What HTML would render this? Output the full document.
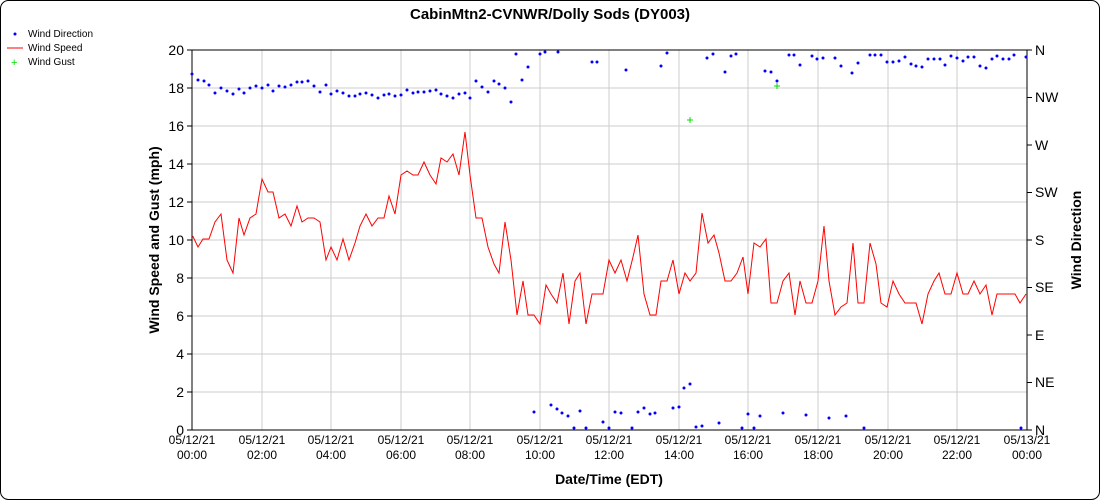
<!DOCTYPE html>
<html><head><style>body{margin:0;background:#fff}svg{display:block;font-family:"Liberation Sans",sans-serif}</style></head><body>
<svg width="1100" height="500" xmlns="http://www.w3.org/2000/svg">
<rect x="0.5" y="0.5" width="1099" height="499" rx="8" fill="#fff" stroke="#000"/>
<text x="550" y="19" text-anchor="middle" font-size="15" font-weight="bold">CabinMtn2-CVNWR/Dolly Sods (DY003)</text>
<g stroke="#ccc" stroke-width="1">
<line x1="192" y1="88" x2="1027" y2="88"/><line x1="192" y1="126" x2="1027" y2="126"/><line x1="192" y1="164" x2="1027" y2="164"/><line x1="192" y1="202" x2="1027" y2="202"/><line x1="192" y1="240" x2="1027" y2="240"/><line x1="192" y1="278" x2="1027" y2="278"/><line x1="192" y1="316" x2="1027" y2="316"/><line x1="192" y1="354" x2="1027" y2="354"/><line x1="192" y1="392" x2="1027" y2="392"/>
<line x1="262" y1="50" x2="262" y2="430"/><line x1="331" y1="50" x2="331" y2="430"/><line x1="401" y1="50" x2="401" y2="430"/><line x1="470" y1="50" x2="470" y2="430"/><line x1="540" y1="50" x2="540" y2="430"/><line x1="609" y1="50" x2="609" y2="430"/><line x1="679" y1="50" x2="679" y2="430"/><line x1="748" y1="50" x2="748" y2="430"/><line x1="818" y1="50" x2="818" y2="430"/><line x1="888" y1="50" x2="888" y2="430"/><line x1="957" y1="50" x2="957" y2="430"/>
</g>
<rect x="192" y="50" width="835" height="380" fill="none" stroke="#000"/>
<g stroke="#000">
<line x1="187" y1="50" x2="192" y2="50"/><line x1="187" y1="88" x2="192" y2="88"/><line x1="187" y1="126" x2="192" y2="126"/><line x1="187" y1="164" x2="192" y2="164"/><line x1="187" y1="202" x2="192" y2="202"/><line x1="187" y1="240" x2="192" y2="240"/><line x1="187" y1="278" x2="192" y2="278"/><line x1="187" y1="316" x2="192" y2="316"/><line x1="187" y1="354" x2="192" y2="354"/><line x1="187" y1="392" x2="192" y2="392"/><line x1="187" y1="430" x2="192" y2="430"/>
<line x1="1027" y1="50" x2="1032" y2="50"/><line x1="1027" y1="97.5" x2="1032" y2="97.5"/><line x1="1027" y1="145" x2="1032" y2="145"/><line x1="1027" y1="192.5" x2="1032" y2="192.5"/><line x1="1027" y1="240" x2="1032" y2="240"/><line x1="1027" y1="287.5" x2="1032" y2="287.5"/><line x1="1027" y1="335" x2="1032" y2="335"/><line x1="1027" y1="382.5" x2="1032" y2="382.5"/><line x1="1027" y1="430" x2="1032" y2="430"/>
</g>
<g font-size="14" text-anchor="end">
<text x="184" y="55">20</text><text x="184" y="93">18</text><text x="184" y="131">16</text><text x="184" y="169">14</text><text x="184" y="207">12</text><text x="184" y="245">10</text><text x="184" y="283">8</text><text x="184" y="321">6</text><text x="184" y="359">4</text><text x="184" y="397">2</text><text x="184" y="435">0</text>
</g>
<g font-size="14">
<text x="1035" y="55">N</text><text x="1035" y="102">NW</text><text x="1035" y="150">W</text><text x="1035" y="197">SW</text><text x="1035" y="245">S</text><text x="1035" y="292">SE</text><text x="1035" y="340">E</text><text x="1035" y="387">NE</text><text x="1035" y="435">N</text>
</g>
<g font-size="12" text-anchor="middle">
<text x="192" y="444">05/12/21</text><text x="192" y="459">00:00</text>
<text x="262" y="444">05/12/21</text><text x="262" y="459">02:00</text>
<text x="331" y="444">05/12/21</text><text x="331" y="459">04:00</text>
<text x="401" y="444">05/12/21</text><text x="401" y="459">06:00</text>
<text x="470" y="444">05/12/21</text><text x="470" y="459">08:00</text>
<text x="540" y="444">05/12/21</text><text x="540" y="459">10:00</text>
<text x="609" y="444">05/12/21</text><text x="609" y="459">12:00</text>
<text x="679" y="444">05/12/21</text><text x="679" y="459">14:00</text>
<text x="748" y="444">05/12/21</text><text x="748" y="459">16:00</text>
<text x="818" y="444">05/12/21</text><text x="818" y="459">18:00</text>
<text x="888" y="444">05/12/21</text><text x="888" y="459">20:00</text>
<text x="957" y="444">05/12/21</text><text x="957" y="459">22:00</text>
<text x="1027" y="444">05/13/21</text><text x="1027" y="459">00:00</text>
</g>
<text x="609" y="484" text-anchor="middle" font-size="14" font-weight="bold">Date/Time (EDT)</text>
<text transform="translate(159,240) rotate(-90)" text-anchor="middle" font-size="14" font-weight="bold">Wind Speed and Gust (mph)</text>
<text transform="translate(1081,240) rotate(-90)" text-anchor="middle" font-size="14" font-weight="bold">Wind Direction</text>
<g font-size="10">
<circle cx="15" cy="34" r="1.5" fill="#00f"/><text x="28" y="37">Wind Direction</text>
<line x1="7" y1="48" x2="23" y2="48" stroke="#f00"/><text x="28" y="51">Wind Speed</text>
<text x="11" y="66" fill="#0d0" font-size="11">+</text><text x="28" y="65">Wind Gust</text>
</g>
<polyline fill="none" stroke="#f00" stroke-width="1" points="192.7,236 198,247 203,239 209,239 215,222 221,214 227,260 233,273 239,218 244,235 250,218 256,214 262,179 268,192 273,192 279,218 285,214 291,226 297,206 302,222 308,218 314,218 320,222 326,260 331,247 337,260 343,239 349,260 355,243 360,226 366,214 372,226 378,218 384,218 389,196 395,214 401,175 407,171 413,175 418,175 424,162 430,175 436,184 441,158 447,162 453,154 459,175 465,132 470,175 476,218 482,218 488,247 494,264 499,273 505,222 511,260 517,315 523,281 528,315 534,315 540,324 546,285 551,294 557,303 563,273 569,324 575,281 580,273 586,324 592,294 603,294 609,260 615,273 621,260 627,281 633,257 638,235 644,294 650,315 656,315 661,281 667,281 673,260 679,294 685,273 690,281 696,273 702,213 708,243 714,235 719,253 725,281 731,281 737,273 743,257 748,294 754,243 760,247 766,239 771,303 777,303 783,281 789,273 795,315 800,281 806,303 812,303 818,281 824,226 829,281 835,315 841,307 847,303 853,243 858,303 864,303 870,243 876,264 881,303 887,307 893,281 899,294 905,303 916,303 922,324 928,294 934,281 939,273 945,294 951,294 957,273 963,294 968,294 974,281 980,294 986,285 992,315 997,294 1015,294 1020,303 1026,294"/>
<g fill="#00f" id="d">
<script>0</script>
</g>
<g fill="#00f">
<circle cx="192" cy="74" r="1.5"/><circle cx="198" cy="80" r="1.5"/><circle cx="204" cy="81" r="1.5"/><circle cx="209" cy="85" r="1.5"/><circle cx="215" cy="93" r="1.5"/><circle cx="221" cy="88" r="1.5"/><circle cx="227" cy="91" r="1.5"/><circle cx="233" cy="94" r="1.5"/><circle cx="239" cy="89" r="1.5"/><circle cx="244" cy="93" r="1.5"/><circle cx="250" cy="88" r="1.5"/><circle cx="256" cy="86" r="1.5"/><circle cx="262" cy="88" r="1.5"/><circle cx="268" cy="85" r="1.5"/><circle cx="273" cy="91" r="1.5"/><circle cx="279" cy="86" r="1.5"/><circle cx="285" cy="87" r="1.5"/><circle cx="291" cy="85" r="1.5"/><circle cx="297" cy="82" r="1.5"/><circle cx="302" cy="82" r="1.5"/><circle cx="308" cy="81" r="1.5"/><circle cx="314" cy="86" r="1.5"/><circle cx="320" cy="92" r="1.5"/><circle cx="326" cy="85" r="1.5"/><circle cx="331" cy="94" r="1.5"/><circle cx="337" cy="91" r="1.5"/><circle cx="343" cy="93" r="1.5"/><circle cx="349" cy="96" r="1.5"/><circle cx="355" cy="96" r="1.5"/><circle cx="360" cy="94" r="1.5"/><circle cx="366" cy="93" r="1.5"/><circle cx="372" cy="95" r="1.5"/><circle cx="378" cy="98" r="1.5"/><circle cx="384" cy="95" r="1.5"/><circle cx="389" cy="94" r="1.5"/><circle cx="395" cy="96" r="1.5"/><circle cx="401" cy="95" r="1.5"/><circle cx="407" cy="90" r="1.5"/><circle cx="413" cy="93" r="1.5"/><circle cx="418" cy="92" r="1.5"/><circle cx="424" cy="92" r="1.5"/><circle cx="430" cy="91" r="1.5"/><circle cx="436" cy="90" r="1.5"/><circle cx="441" cy="94" r="1.5"/><circle cx="447" cy="96" r="1.5"/><circle cx="453" cy="98" r="1.5"/><circle cx="459" cy="94" r="1.5"/><circle cx="465" cy="93" r="1.5"/><circle cx="470" cy="98" r="1.5"/><circle cx="476" cy="81" r="1.5"/><circle cx="482" cy="87" r="1.5"/><circle cx="488" cy="92" r="1.5"/><circle cx="494" cy="81" r="1.5"/><circle cx="499" cy="84" r="1.5"/><circle cx="505" cy="88" r="1.5"/><circle cx="511" cy="102" r="1.5"/><circle cx="516" cy="54" r="1.5"/><circle cx="522" cy="80" r="1.5"/><circle cx="528" cy="67" r="1.5"/><circle cx="540" cy="54" r="1.5"/><circle cx="545" cy="52" r="1.5"/><circle cx="558" cy="52" r="1.5"/><circle cx="592" cy="62" r="1.5"/><circle cx="597" cy="62" r="1.5"/>
<circle cx="626" cy="70" r="1.5"/><circle cx="661" cy="66" r="1.5"/><circle cx="667" cy="53" r="1.5"/><circle cx="707" cy="58" r="1.5"/><circle cx="713" cy="54" r="1.5"/><circle cx="725" cy="72" r="1.5"/><circle cx="731" cy="56" r="1.5"/><circle cx="736" cy="54" r="1.5"/><circle cx="765" cy="71" r="1.5"/><circle cx="771" cy="72" r="1.5"/><circle cx="777" cy="81" r="1.5"/><circle cx="789" cy="55" r="1.5"/><circle cx="794" cy="55" r="1.5"/><circle cx="800" cy="65" r="1.5"/><circle cx="812" cy="56" r="1.5"/><circle cx="817" cy="59" r="1.5"/><circle cx="823" cy="58" r="1.5"/><circle cx="835" cy="58" r="1.5"/><circle cx="841" cy="66" r="1.5"/><circle cx="852" cy="73" r="1.5"/><circle cx="858" cy="63" r="1.5"/><circle cx="870" cy="55" r="1.5"/><circle cx="875" cy="55" r="1.5"/><circle cx="881" cy="55" r="1.5"/><circle cx="887" cy="62" r="1.5"/><circle cx="893" cy="62" r="1.5"/><circle cx="899" cy="61" r="1.5"/><circle cx="905" cy="57" r="1.5"/><circle cx="911" cy="64" r="1.5"/><circle cx="916" cy="66" r="1.5"/><circle cx="922" cy="67" r="1.5"/><circle cx="928" cy="59" r="1.5"/><circle cx="934" cy="59" r="1.5"/><circle cx="940" cy="59" r="1.5"/><circle cx="945" cy="65" r="1.5"/><circle cx="951" cy="56" r="1.5"/><circle cx="957" cy="58" r="1.5"/><circle cx="963" cy="61" r="1.5"/><circle cx="968" cy="57" r="1.5"/><circle cx="974" cy="57" r="1.5"/><circle cx="980" cy="66" r="1.5"/><circle cx="986" cy="68" r="1.5"/><circle cx="992" cy="59" r="1.5"/><circle cx="997" cy="56" r="1.5"/><circle cx="1003" cy="59" r="1.5"/><circle cx="1009" cy="59" r="1.5"/><circle cx="1014" cy="55" r="1.5"/><circle cx="1026" cy="57" r="1.5"/>
<circle cx="534" cy="412" r="1.5"/><circle cx="551" cy="405" r="1.5"/><circle cx="557" cy="409" r="1.5"/><circle cx="562" cy="413" r="1.5"/><circle cx="568" cy="416" r="1.5"/><circle cx="574" cy="428" r="1.5"/><circle cx="580" cy="411" r="1.5"/><circle cx="586" cy="428" r="1.5"/><circle cx="603" cy="422" r="1.5"/><circle cx="609" cy="428" r="1.5"/><circle cx="615" cy="412" r="1.5"/><circle cx="621" cy="413" r="1.5"/><circle cx="632" cy="428" r="1.5"/><circle cx="638" cy="412" r="1.5"/><circle cx="644" cy="408" r="1.5"/><circle cx="650" cy="414" r="1.5"/><circle cx="655" cy="413" r="1.5"/><circle cx="673" cy="408" r="1.5"/><circle cx="679" cy="407" r="1.5"/><circle cx="684" cy="388" r="1.5"/><circle cx="690" cy="384" r="1.5"/><circle cx="696" cy="427" r="1.5"/><circle cx="702" cy="426" r="1.5"/><circle cx="719" cy="423" r="1.5"/><circle cx="742" cy="428" r="1.5"/><circle cx="748" cy="414" r="1.5"/><circle cx="754" cy="428" r="1.5"/><circle cx="760" cy="416" r="1.5"/><circle cx="783" cy="413" r="1.5"/><circle cx="806" cy="415" r="1.5"/><circle cx="829" cy="418" r="1.5"/><circle cx="846" cy="416" r="1.5"/><circle cx="864" cy="428" r="1.5"/><circle cx="1021" cy="428" r="1.5"/>
</g>
<g stroke="#0d0" stroke-width="1">
<line x1="687" y1="120" x2="693" y2="120"/><line x1="690" y1="117" x2="690" y2="123"/>
<line x1="774" y1="86" x2="780" y2="86"/><line x1="777" y1="83" x2="777" y2="89"/>
</g>
</svg>
</body></html>
